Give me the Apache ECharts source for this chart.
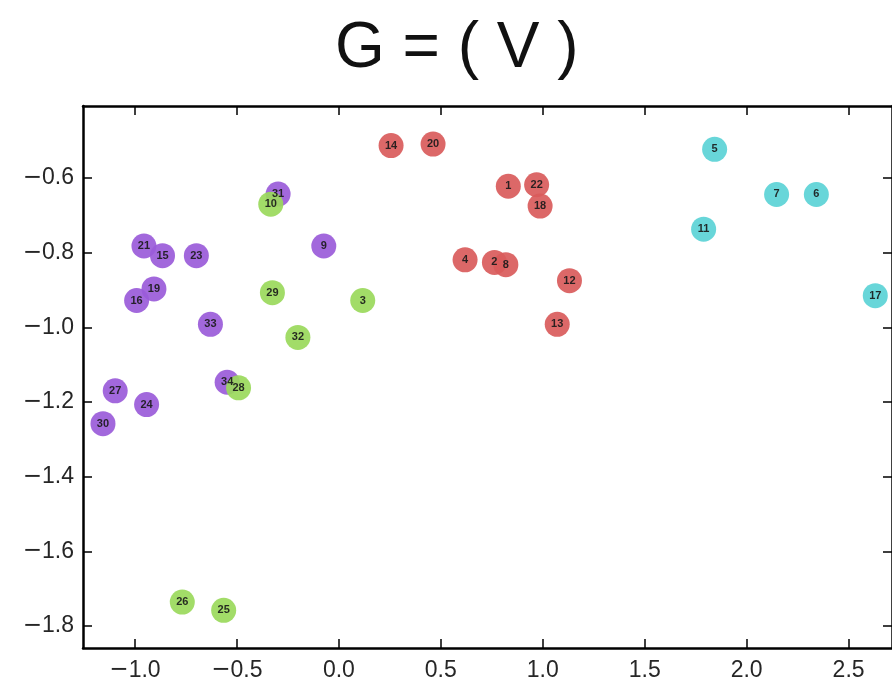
<!DOCTYPE html>
<html>
<head>
<meta charset="utf-8">
<title>G = ( V )</title>
<script src="https://cdn.jsdelivr.net/npm/echarts@6/dist/echarts.min.js"></script>
<style>
    html, body { margin: 0; padding: 0; background: #fff; }
    #chartId { width: 892px; height: 682px; }
</style>
</head>
<body>
<div id="chartId"></div>
<script>
// points as [x, y, node id]
var purplePoints = [
    [-0.956, -0.782, '21'], [-0.865, -0.808, '15'], [-0.699, -0.808, '23'],
    [-0.298, -0.643, '31'], [-0.074, -0.782, '9'], [-0.907, -0.897, '19'],
    [-0.992, -0.928, '16'], [-0.630, -0.992, '33'], [-0.548, -1.147, '34'],
    [-1.097, -1.170, '27'], [-0.943, -1.207, '24'], [-1.157, -1.258, '30']
];
var greenPoints = [
    [-0.334, -0.670, '10'], [-0.326, -0.907, '29'], [0.117, -0.928, '3'],
    [-0.201, -1.027, '32'], [-0.492, -1.162, '28'], [-0.768, -1.736, '26'],
    [-0.565, -1.758, '25']
];
var redPoints = [
    [0.256, -0.513, '14'], [0.462, -0.509, '20'], [0.831, -0.622, '1'],
    [0.970, -0.618, '22'], [0.987, -0.675, '18'], [0.619, -0.819, '4'],
    [0.763, -0.826, '2'], [0.819, -0.832, '8'], [1.131, -0.875, '12'],
    [1.071, -0.992, '13']
];
var cyanPoints = [
    [1.843, -0.523, '5'], [2.147, -0.644, '7'], [2.342, -0.644, '6'],
    [1.789, -0.737, '11'], [2.631, -0.915, '17']
];
var xTicks = [-1.0, -0.5, 0.0, 0.5, 1.0, 1.5, 2.0, 2.5];
var yTicks = [-0.6, -0.8, -1.0, -1.2, -1.4, -1.6, -1.8];

var chart = echarts.init(document.getElementById('chartId'));

// wide minus like the original
function tickLabel(v) {
    var s = Math.abs(v).toFixed(1);
    return v < 0 ? '{m|\u2212}' + s : s;
}

function makeAxis(type, position, ticks, range, showLabel) {
    return {
        type: 'value',
        position: position,
        min: range[0],
        max: range[1],
        splitLine: {show: false},
        axisLine: {show: true, onZero: false, lineStyle: {color: '#000', width: 2.5}},
        axisTick: {show: true, inside: true, length: 9, customValues: ticks,
            lineStyle: {color: '#000', width: 1.5}},
        axisLabel: {show: showLabel, customValues: ticks, formatter: tickLabel,
            color: '#262626', fontSize: 23, fontFamily: 'Liberation Sans',
            margin: type === 'x' ? 11 : 9,
            rich: {m: {fontSize: 23, fontFamily: 'DejaVu Sans', color: '#262626'}}}
    };
}

function makeSeries(data, color) {
    return {
        type: 'scatter',
        xAxisIndex: 0,
        yAxisIndex: 0,
        symbolSize: 25,
        data: data,
        itemStyle: {color: color, opacity: 0.92},
        label: {
            show: true,
            position: 'inside',
            formatter: function(p) { return p.value[2]; },
            color: '#1a1a1a',
            fontSize: 11,
            fontWeight: 'bold',
            fontFamily: 'Liberation Sans'
        }
    };
}

var xRange = [-1.255, 2.713];
var yRange = [-1.859, -0.407];

chart.setOption({
    animation: false,
    backgroundColor: '#fff',
    title: {
        text: 'G = ( V )',
        left: 330,
        top: 12,
        textStyle: {fontSize: 64, fontWeight: 'normal', color: '#111', fontFamily: 'Liberation Sans'}
    },
    grid: {left: 83, right: -5, top: 106, bottom: 30},
    xAxis: [
        makeAxis('x', 'bottom', xTicks, xRange, true),
        makeAxis('x', 'top', xTicks, xRange, false)
    ],
    yAxis: [
        makeAxis('y', 'left', yTicks, yRange, true),
        makeAxis('y', 'right', yTicks, yRange, false)
    ],
    series: [
        makeSeries(redPoints, '#d95b5b'),
        makeSeries(cyanPoints, '#5bd3d6'),
        makeSeries(purplePoints, '#9a5bd9'),
        makeSeries(greenPoints, '#9ad95b')
    ]
});
</script>
</body>
</html>
